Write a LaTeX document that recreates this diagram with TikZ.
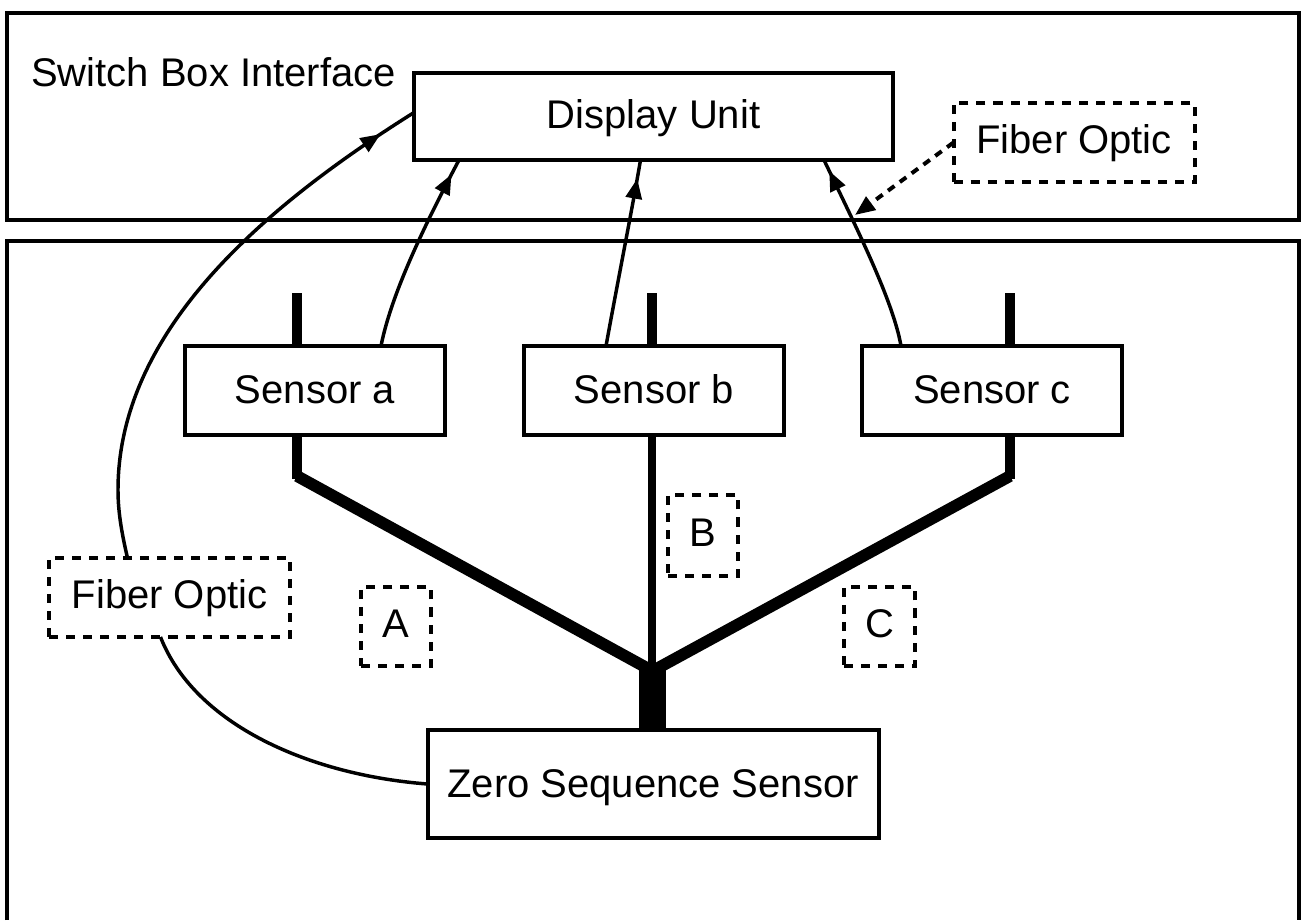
\documentclass[tikz,border=0pt]{standalone}
\usepackage{fontspec}
\setmainfont{Liberation Sans}
\usetikzlibrary{calc,arrows.meta,decorations.markings}
\tikzset{
  x=0.75pt,y=-0.75pt,
  frame/.style={line width=3pt,line cap=butt,line join=miter},
  solidbox/.style={draw,line width=3pt,fill=white,outer sep=0pt,inner sep=0pt,align=center,text height=22pt,text depth=6pt,font=\fontsize{30}{36}\selectfont},
  dashbox/.style={solidbox,line width=3pt,dash pattern=on 6.8pt off 6pt},
  wire/.style={line width=2.6pt},
  busline/.style={line width=6.8pt},
  midtip/.style={postaction={decorate},decoration={markings,mark=at position #1 with {\arrow{Triangle[length=15pt,width=12pt]}}}}
}
\begin{document}
\begin{tikzpicture}
\useasboundingbox (0,0) rectangle (1301,920);
% frames
\node[frame,draw,minimum width=1292*0.75pt,minimum height=207*0.75pt,outer sep=0pt,inner sep=0pt] (upper) at (653,116.5) {};
\coordinate (lowbl) at (7,920);
\coordinate (lowtl) at (7,241);
\coordinate (lowtr) at (1299,241);
\coordinate (lowbr) at (1299,920);
\draw[frame] (lowbl) -- (lowtl) -- (lowtr) -- (lowbr);
\node[anchor=west,inner sep=0pt,font=\fontsize{30}{36}\selectfont] (title) at (31,72) {Switch Box Interface};
% bus lines
\coordinate (jn) at (652.5,671);
\coordinate (topa) at (297,293);
\coordinate (topb) at (652,293);
\coordinate (topc) at (1010,293);
\coordinate (benda) at (297,476);
\coordinate (bendc) at (1010,476);
\draw[busline] (topa) -- (297,350);
\draw[busline] (topb) -- (652,350);
\draw[busline] (topc) -- (1010,350);
\draw[busline] (297,430) -- (297,479);
\draw[busline] (1010,430) -- (1010,479);
\draw[line width=6.6pt] (652,430) -- (652,669);
\draw[line width=8.8pt] (benda) -- (jn);
\draw[line width=8.8pt] (bendc) -- (jn);
% boxes
\node[solidbox,minimum width=479*0.75pt,minimum height=87*0.75pt] (disp) at (653.5,116.5) {\raisebox{-1pt}{Display Unit}};
\node[solidbox,minimum width=260*0.75pt,minimum height=89*0.75pt] (sa) at (315,390.5) {\raisebox{-2pt}{Sensor a}};
\node[solidbox,minimum width=260*0.75pt,minimum height=89*0.75pt] (sb) at (654,390.5) {\raisebox{-2pt}{Sensor b}};
\node[solidbox,minimum width=260*0.75pt,minimum height=89*0.75pt] (sc) at (992,390.5) {\raisebox{-2pt}{Sensor c}};
\node[solidbox,minimum width=451*0.75pt,minimum height=108*0.75pt] (zero) at (653,784) {\raisebox{-2pt}{Zero Sequence Sensor}};
\draw[line width=20pt] ($(jn)+(0,-3)$) -- (jn|-zero.north);
\node[dashbox,minimum width=241*0.75pt,minimum height=79*0.75pt] (fr) at (1074,142.5) {Fiber Optic};
\node[dashbox,minimum width=241*0.75pt,minimum height=79*0.75pt] (fl) at (169.5,597.5) {Fiber Optic};
\node[dashbox,minimum width=70*0.75pt,minimum height=79*0.75pt] (la) at (396,626.5) {A};
\node[dashbox,minimum width=70*0.75pt,minimum height=81*0.75pt] (lb) at (703,535.5) {B};
\node[dashbox,minimum width=71*0.75pt,minimum height=79*0.75pt] (lc) at (879.5,626.5) {C};
% connectors
\draw[wire,midtip=0.92] ($(sa.north)+(66,0)$) .. controls (392,290) and (430,215) .. ($(disp.south west)+(45,0)$);
\draw[wire,midtip=0.90] ($(sb.north)+(-48,0)$) .. controls (618,280) and (632,210) .. ($(disp.south)+(-13,0)$);
\draw[wire,midtip=0.94] ($(sc.north)+(-91,0)$) .. controls (893,300) and (855,225) .. ($(disp.south east)+(-69,0)$);
\draw[wire] (zero.west) .. controls (310,775) and (195,725) .. ($(fl.south)+(-9,0)$);
\draw[wire,midtip=0.93] ($(fl.north)+(-42,0)$) .. controls (121,530) and (118,510) .. (118,490) .. controls (118,325) and (275,200) .. ($(disp.west)+(0,-4)$);
\draw[line width=3pt,dash pattern=on 6pt off 5pt,-{Triangle[length=15pt,width=12pt]}] (fr.west) -- ($(sc.north)+(-137,-131)$);
\end{tikzpicture}
\end{document}
